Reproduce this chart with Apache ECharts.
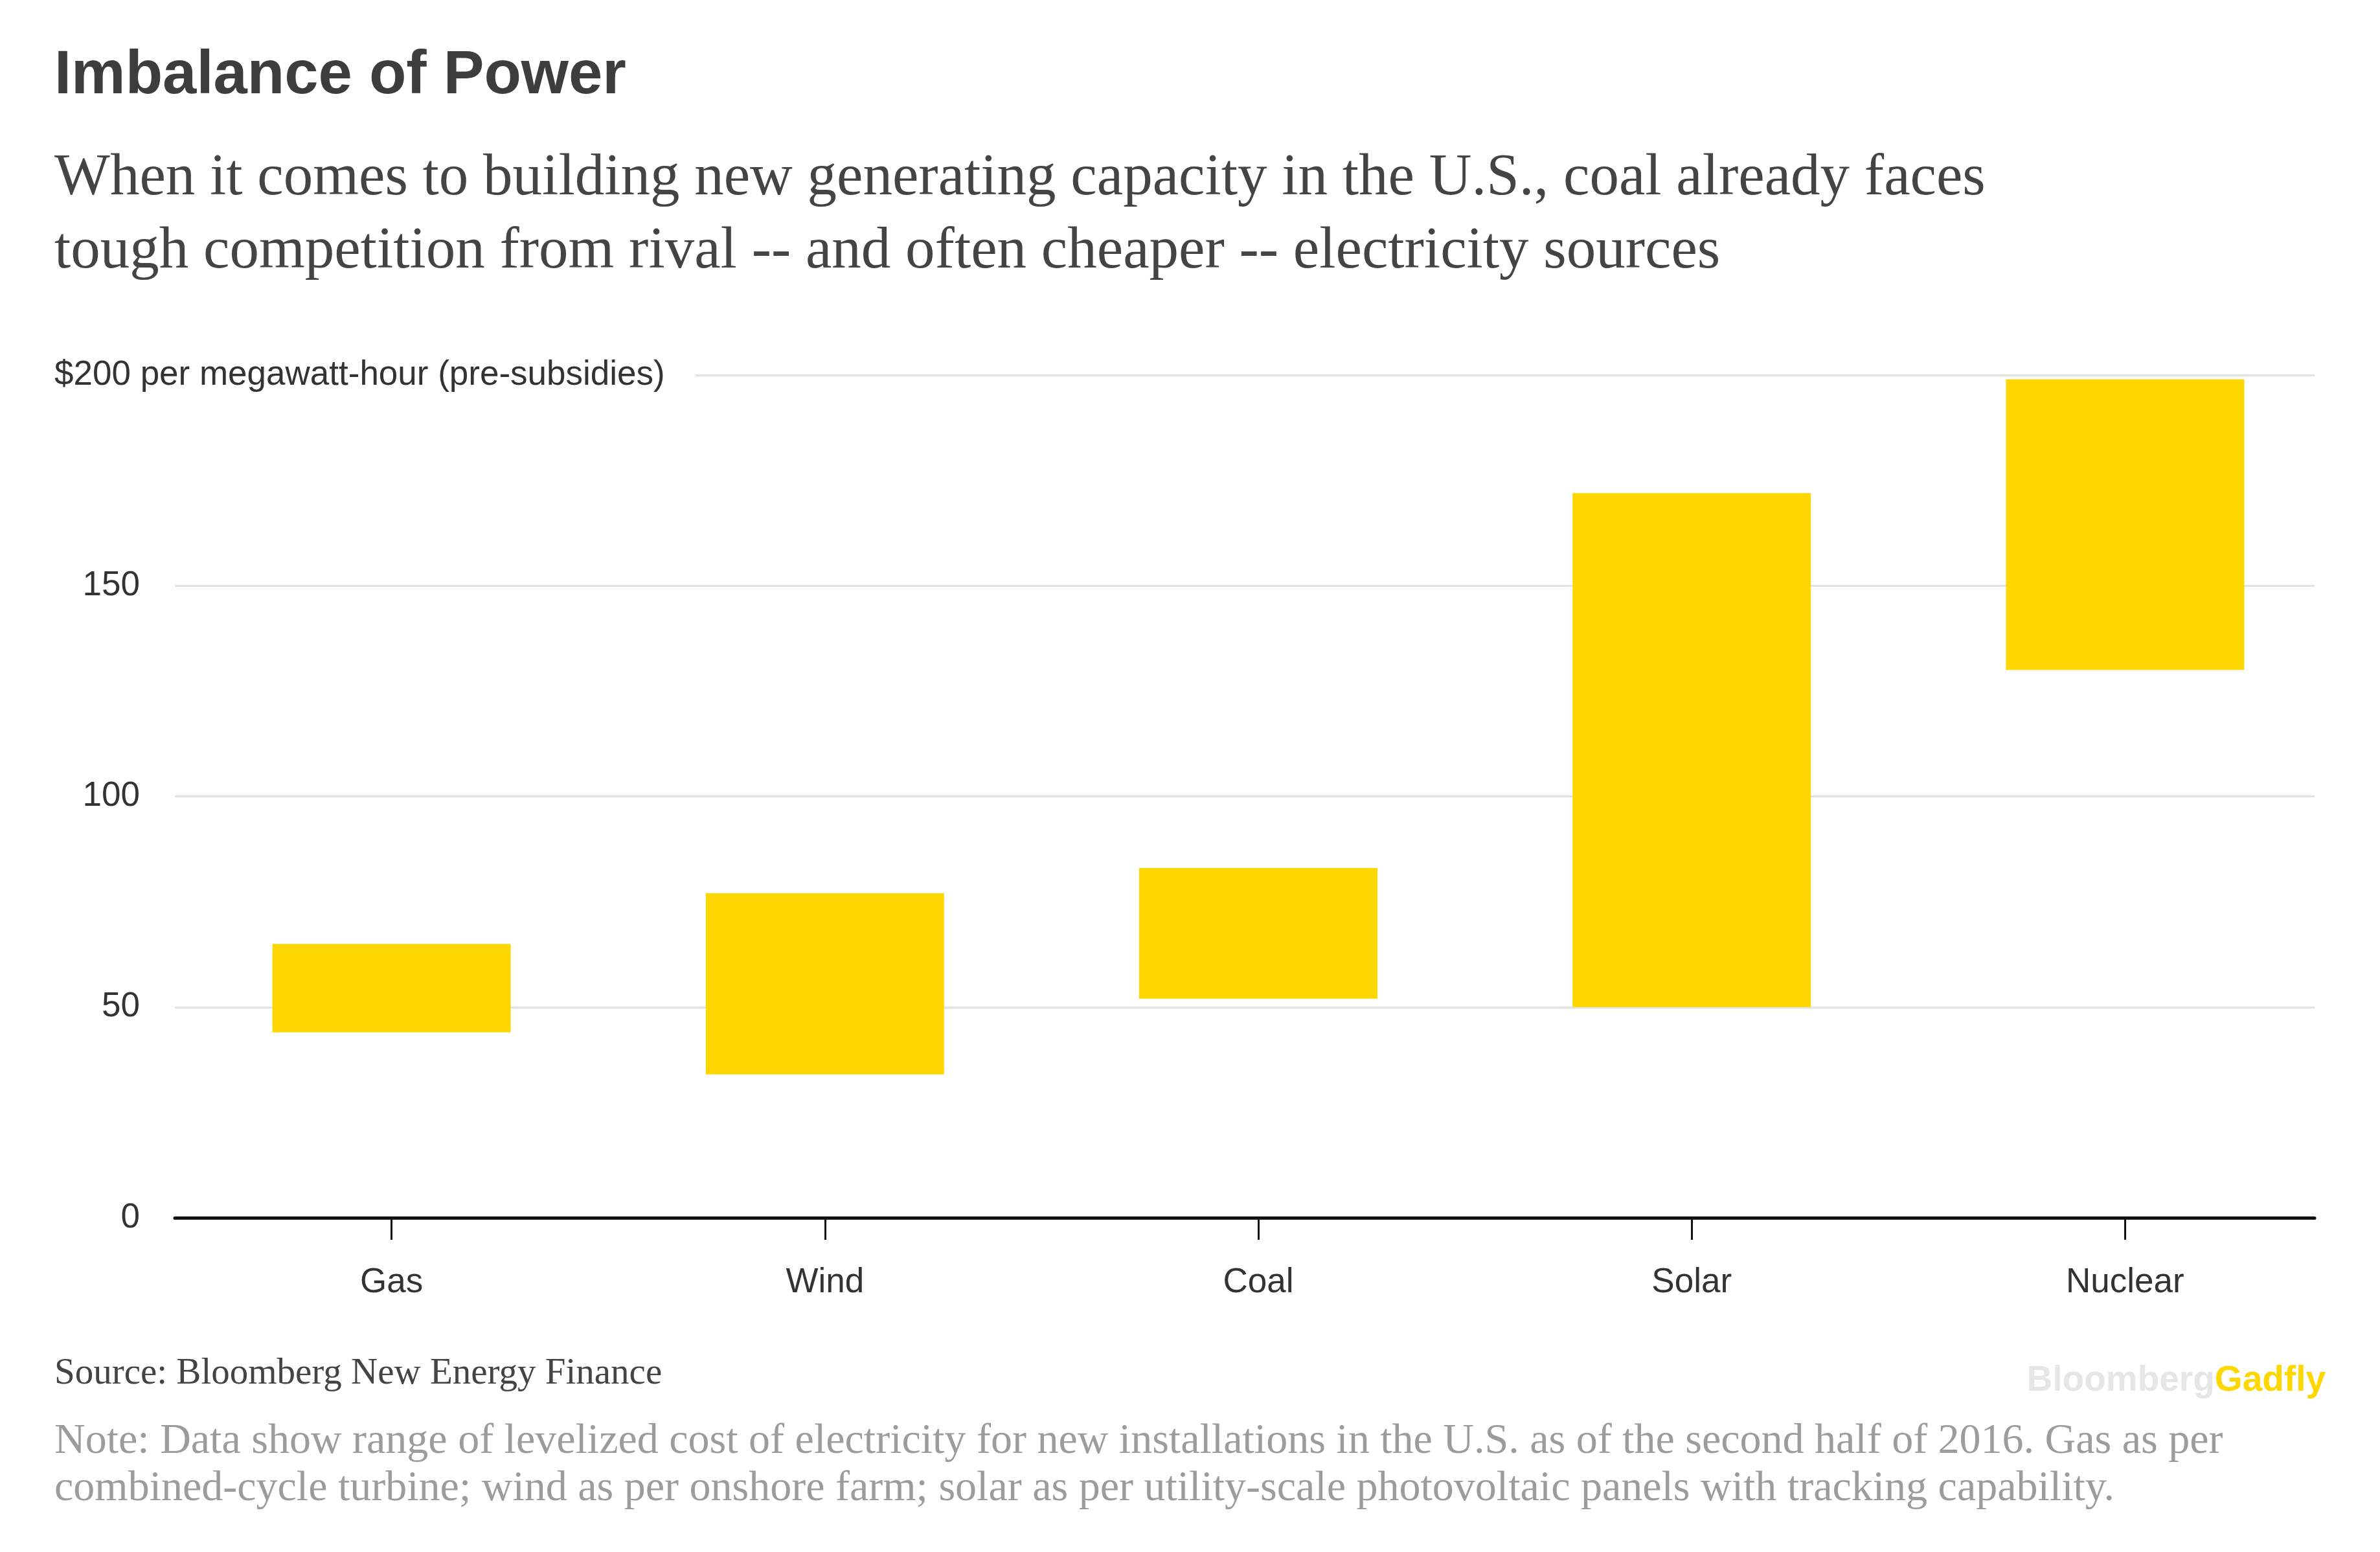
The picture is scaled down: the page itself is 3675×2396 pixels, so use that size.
<!DOCTYPE html>
<html><head><meta charset="utf-8">
<script src="https://cdn.jsdelivr.net/npm/echarts@6/dist/echarts.min.js"></script>
<style>html,body{margin:0;padding:0;background:#fff}#c{width:3675px;height:2396px}</style>
</head><body><div id="c"></div>
<script>
const categories = ['Gas', 'Wind', 'Coal', 'Solar', 'Nuclear'];
const lowValues = [44, 34, 52, 50, 130];
const highValues = [65, 77, 83, 172, 199];
const yTicks = [0, 50, 100, 150, 200];
const yTopLabel = '$200 per megawatt-hour (pre-subsidies)';
const titleText = 'Imbalance of Power';
const subtitleLines = [
  'When it comes to building new generating capacity in the U.S., coal already faces',
  'tough competition from rival -- and often cheaper -- electricity sources'
];
const sourceText = 'Source: Bloomberg New Energy Finance';
const noteLines = [
  'Note: Data show range of levelized cost of electricity for new installations in the U.S. as of the second half of 2016. Gas as per',
  'combined-cycle turbine; wind as per onshore farm; solar as per utility-scale photovoltaic panels with tracking capability.'
];

const SANS = '"Liberation Sans", Arial, sans-serif';
const SERIF = '"Liberation Serif", "Times New Roman", serif';
const GOLD = '#FFD700';
const yMin = yTicks[0], yMax = yTicks[yTicks.length - 1], yStep = yTicks[1] - yTicks[0];
const rangeValues = highValues.map((h, i) => h - lowValues[i]);

const chart = echarts.init(document.getElementById('c'), null, {renderer: 'canvas'});

const graphics = [
  {type: 'text', x: 84, y: 118, style: {text: titleText, font: 'bold 94px ' + SANS, fill: '#3d3d3d', verticalAlign: 'middle'}},
  {type: 'text', x: 84, y: 276, style: {text: subtitleLines[0], font: '91px ' + SERIF, fill: '#444', verticalAlign: 'middle'}},
  {type: 'text', x: 84, y: 389, style: {text: subtitleLines[1], font: '91px ' + SERIF, fill: '#444', verticalAlign: 'middle'}},
  {type: 'text', x: 84, y: 2121, style: {text: sourceText, font: '57px ' + SERIF, fill: '#444', verticalAlign: 'middle'}},
  {type: 'text', x: 84, y: 2226, style: {text: noteLines[0], font: '66px ' + SERIF, fill: '#9c9c9c', verticalAlign: 'middle'}},
  {type: 'text', x: 84, y: 2299, style: {text: noteLines[1], font: '66px ' + SERIF, fill: '#9c9c9c', verticalAlign: 'middle'}},
  {type: 'text', x: 3591, y: 2132, style: {
    text: '{a|Bloomberg}{b|Gadfly}', align: 'right', verticalAlign: 'middle',
    rich: {
      a: {font: 'bold 55px ' + SANS, fill: '#e6e6e6', color: '#e6e6e6'},
      b: {font: 'bold 55px ' + SANS, fill: GOLD, color: GOLD}
    }
  }}
];

const option = {
  backgroundColor: '#fff',
  animation: false,
  graphic: graphics,
  grid: [
    {left: 270, right: 59, top: 579, bottom: 516},
    {left: 270, right: 101, top: 579, bottom: 516}
  ],
  xAxis: [
    {
      type: 'category', gridIndex: 0, data: categories,
      axisLine: {show: false},
      axisTick: {show: true, alignWithLabel: true, length: 34, lineStyle: {color: '#111', width: 3}},
      axisLabel: {margin: 74, color: '#333', fontSize: 53, fontFamily: SANS},
      splitLine: {show: false}
    },
    {
      type: 'category', gridIndex: 1, data: categories, z: 3,
      axisLine: {show: true, lineStyle: {color: '#111', width: 5}},
      axisTick: {show: false}, axisLabel: {show: false}, splitLine: {show: false}
    }
  ],
  yAxis: [
    {
      type: 'value', gridIndex: 0, min: yMin, max: yMax, interval: yStep, z: 5,
      axisLine: {show: false}, axisTick: {show: false}, splitLine: {show: false},
      axisLabel: {
        align: 'left', margin: 186, color: '#333', fontSize: 53, fontFamily: SANS,
        formatter: v => v === yMax ? '{t|' + yTopLabel + '}' : '{n|' + v + '}',
        rich: {
          t: {backgroundColor: '#fff', padding: [6, 47, 6, 0], fontSize: 53, fontFamily: SANS, color: '#333'},
          n: {width: 132, align: 'right', fontSize: 53, fontFamily: SANS, color: '#333'}
        }
      }
    },
    {
      type: 'value', gridIndex: 1, min: yMin, max: yMax, interval: yStep, z: 0,
      axisLine: {show: false}, axisTick: {show: false}, axisLabel: {show: false},
      splitLine: {show: true, lineStyle: {color: '#e2e2e2', width: 3}}
    }
  ],
  series: [
    {
      type: 'bar', xAxisIndex: 0, yAxisIndex: 0, stack: 'range', data: lowValues,
      barWidth: 368, itemStyle: {color: 'rgba(0,0,0,0)'}, silent: true
    },
    {
      type: 'bar', xAxisIndex: 0, yAxisIndex: 0, stack: 'range', data: rangeValues,
      barWidth: 368, itemStyle: {color: GOLD}
    }
  ]
};
chart.setOption(option);
</script></body></html>
